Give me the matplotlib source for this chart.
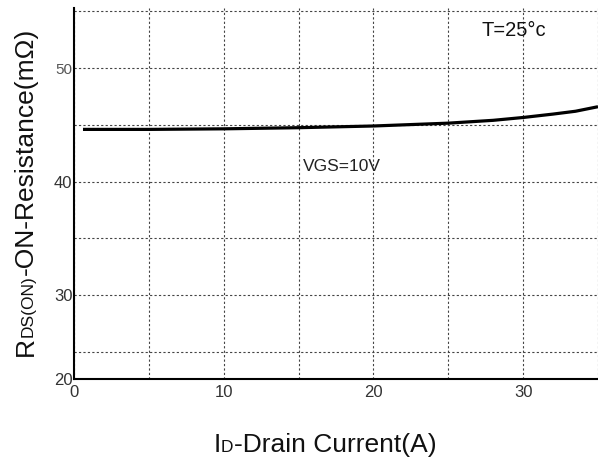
import matplotlib
matplotlib.use("Agg")
import matplotlib.pyplot as plt
from matplotlib.transforms import IdentityTransform

plt.rcParams['font.family'] = ['Liberation Sans', 'DejaVu Sans']

# Data
current = [0.6, 5, 10, 15, 20, 25, 28, 30, 32, 33.5, 35]
resistance = [44.6, 44.6, 44.65, 44.75, 44.9, 45.15, 45.4, 45.65, 45.95, 46.2, 46.6]

x_ticks = [0, 5, 10, 15, 20, 25, 30, 35]
x_labels = ['0', '', '10', '', '20', '', '30', '']
y_ticks = [22.6, 25, 30, 35, 40, 45, 50, 55]
y_labels = ['20', '', '30', '', '40', '', '50', '']

W, H = 598, 457
fig = plt.figure(figsize=(W / 100, H / 100), dpi=100)
ax = fig.add_axes([74 / W, (H - 379) / H, 1 - 74 / W, (379 - 8) / H])

ax.plot(current, resistance, color='black', lw=2.3, solid_capstyle='butt', zorder=3)

ax.set_xlim(0, 35)
ax.set_ylim(22.6, 55.3)
ax.set_xticks(x_ticks)
ax.set_xticklabels(x_labels)
ax.set_yticks(y_ticks)
ax.set_yticklabels(y_labels)
ax.tick_params(length=0, labelsize=12, colors='#333333')
ax.tick_params(axis='x', pad=4)
ax.tick_params(axis='y', pad=1)
for lab in ax.get_yticklabels():
    if lab.get_text() == '50':
        lab.set_color('#555555')
        lab.set_fontsize(11)

ax.grid(True, color='#444444', linestyle=(0, (2, 2)), lw=0.8)
ax.set_axisbelow(True)
for s in ['top', 'right']:
    ax.spines[s].set_visible(False)
for s in ['left', 'bottom']:
    ax.spines[s].set_linewidth(1.5)
    ax.spines[s].set_color('black')

ax.text(27.2, 52.8, 'T=25°c', fontsize=14.5, ha='left', va='baseline', color='#111111')
ax.text(15.3, 40.9, 'VGS=10V', fontsize=12.5, ha='left', va='baseline', color='#222222')


def mixed_text(pieces, cx, cy, rotation=0):
    renderer = fig.canvas.get_renderer()
    texts, lengths = [], []
    for s, size in pieces:
        t = fig.text(0, 0, s, fontsize=size, rotation=rotation, rotation_mode='anchor',
                     ha='left', va='baseline', transform=IdentityTransform(), color='#111111')
        bb = t.get_window_extent(renderer)
        texts.append(t)
        lengths.append(bb.width if rotation == 0 else bb.height)
    total = sum(lengths)
    pos = (cx if rotation == 0 else cy) - total / 2
    for t, L in zip(texts, lengths):
        if rotation == 0:
            t.set_position((pos, cy))
        else:
            t.set_position((cx, pos))
        pos += L


big, small = 19, 12.5
mixed_text([('I', big), ('D', small), ('-Drain Current(A)', big)], 325, H - 452)
mixed_text([('R', big), ('DS(ON)', small), ('-ON-Resistance(mΩ)', big)], 33, H - 192, rotation=90)

fig.savefig('out.png', dpi=100)
